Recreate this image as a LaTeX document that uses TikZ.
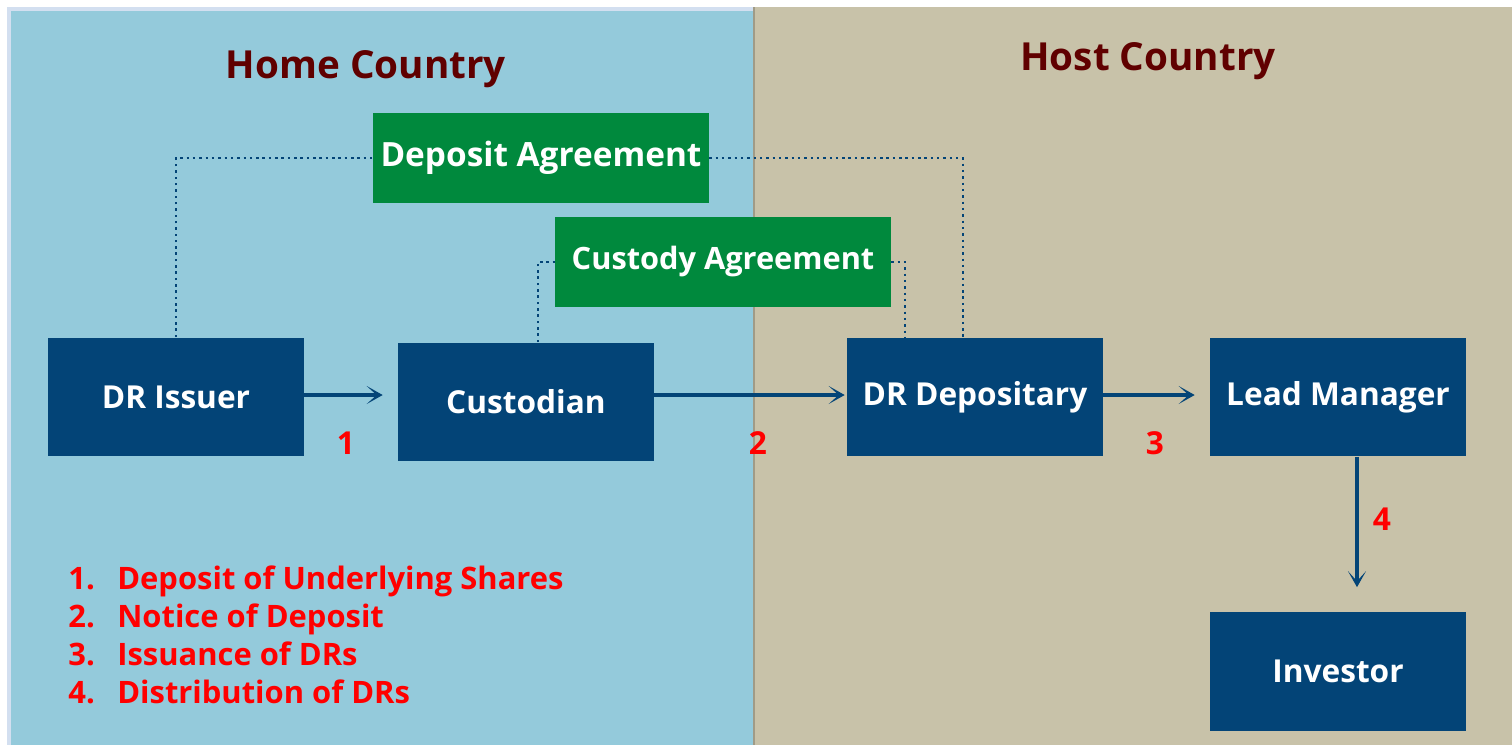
\documentclass[tikz,border=0pt]{standalone}
\usepackage{fontspec}
\setmainfont{Open Sans}
\usetikzlibrary{arrows.meta}
\definecolor{homeBlue}{HTML}{94CADB}
\definecolor{hostTan}{HTML}{C8C2A9}
\definecolor{rimBlue}{HTML}{D3DFF0}
\definecolor{boxBlue}{HTML}{034477}
\definecolor{boxGreen}{HTML}{00893D}
\definecolor{titleRed}{HTML}{600000}
\tikzstyle{partyNode}=[fill=boxBlue,text=white,font=\bfseries\fontsize{18}{20}\selectfont,minimum width=5.12cm,minimum height=2.38cm,inner sep=0pt]
\tikzstyle{agreementNode}=[fill=boxGreen,text=white,font=\bfseries\fontsize{17.5}{20}\selectfont,minimum width=6.72cm,minimum height=1.8cm,inner sep=0pt]
\tikzstyle{stepNum}=[text=red,font=\bfseries\fontsize{18}{20}\selectfont,inner sep=0pt]
\tikzstyle{countryTitle}=[text=titleRed,font=\bfseries\fontsize{22}{26}\selectfont,inner sep=0pt]
\tikzstyle{flow}=[-{Stealth[length=0.32cm,width=0.36cm,inset=0.2cm]},line width=2.1pt,draw=boxBlue]
\tikzstyle{link}=[draw=boxBlue,line width=1.5pt,dash pattern=on 1.4pt off 2.2pt]

\begin{document}
\begin{tikzpicture}[x=0.02cm,y=-0.02cm]

    \useasboundingbox (0,0) rectangle (1512,745);
    \fill[rimBlue] (7,7) rectangle (753,745);
    \fill[homeBlue] (11,11) rectangle (753,745);
    \fill[hostTan] (753,7) rectangle (1512,745);
    \draw[hostTan!80!black,line width=1.5pt] (754,7) -- (754,745);

    \node[countryTitle] (home) at (366,69) {Home Country};
    \node[countryTitle] (host) at (1148,61) {Host Country};

    \node[partyNode] (issuer) at (176,397) {DR Issuer};
    \node[partyNode] (custodian) at (526,402) {Custodian};
    \node[partyNode] (depositary) at (975,397) {\raisebox{-2pt}{DR Depositary}};
    \node[partyNode] (lead) at (1338,397) {\raisebox{-2pt}{Lead Manager}};
    \node[partyNode] (investor) at (1338,671) {Investor};

    \node[agreementNode,font=\bfseries\fontsize{19}{20}\selectfont] (deposit) at (541,158) {Deposit Agreement};
    \node[agreementNode] (custody) at (723,262) {Custody Agreement};

    \draw[link] (issuer.north) |- (deposit.west);
    \draw[link] (deposit.east) -| ([xshift=-0.24cm]depositary.north);
    \draw[link] ([xshift=0.24cm]custodian.north) |- (custody.west);
    \draw[link] (custody.east) -| ([xshift=-1.4cm]depositary.north);

    \draw[flow,shorten >=0.3cm] ([yshift=0.04cm]issuer.east) -- ([yshift=0.04cm]issuer.east -| custodian.west);
    \draw[flow,shorten >=0.04cm] ([yshift=0.04cm]depositary.west -| custodian.east) -- ([yshift=0.04cm]depositary.west);
    \draw[flow,shorten >=0.3cm] ([yshift=0.04cm]depositary.east) -- ([yshift=0.04cm]lead.west);
    \draw[flow,shorten >=0.48cm] ([xshift=0.38cm]lead.south) -- ([xshift=0.38cm]investor.north);

    \node[stepNum] (num1) at (346,443) {1};
    \node[stepNum] (num2) at (758,443) {2};
    \node[stepNum] (num3) at (1155,443) {3};
    \node[stepNum] (num4) at (1382,519) {4};

    \node[text=red,font=\bfseries\fontsize{17.6}{21.6}\selectfont,align=left,anchor=west,inner sep=0pt] (legend) at (68,635) {%
        \hbox to 0.98cm{1.\hfil}Deposit of Underlying Shares\\
        \hbox to 0.98cm{2.\hfil}Notice of Deposit\\
        \hbox to 0.98cm{3.\hfil}Issuance of DRs\\
        \hbox to 0.98cm{4.\hfil}Distribution of DRs};

\end{tikzpicture}
\end{document}
